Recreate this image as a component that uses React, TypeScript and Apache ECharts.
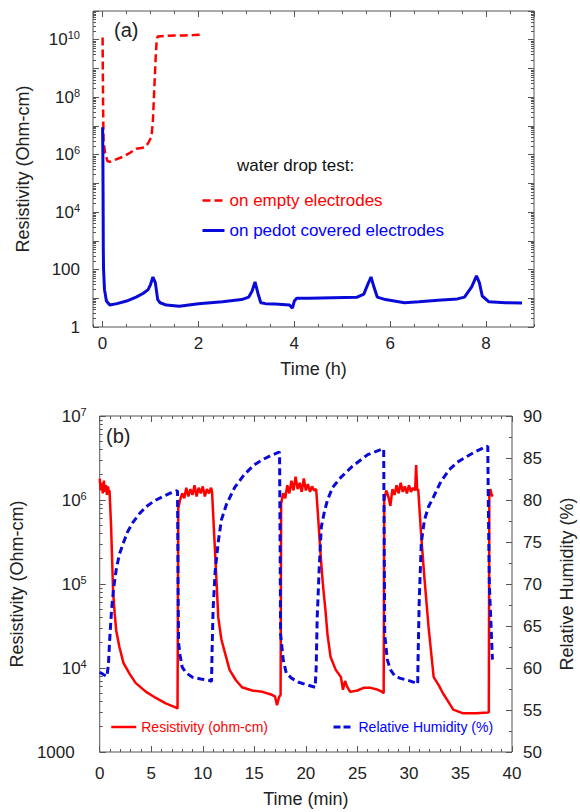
import React, { useEffect, useRef } from "react";
import * as echarts from "echarts";

// ---------- Panel (a): resistivity vs time (h) ----------
const emptyElectrodes: [number, number][] = [
  [0, 1.2e10], [0.005, 1e9], [0.01, 5e7], [0.02, 3e6], [0.05, 1.2e6], [0.1, 6e5], [0.15, 5.6e5],
  [0.25, 6.5e5], [0.42, 8.4e5], [0.55, 1.1e6], [0.7, 1.6e6], [0.8, 1.7e6], [0.88, 1.8e6],
  [0.95, 2.5e6], [1.02, 4.2e6], [1.05, 1.5e7], [1.08, 2.3e8], [1.11, 3e9], [1.13, 1e10],
  [1.15, 1.3e10], [1.3, 1.35e10], [1.5, 1.4e10], [1.7, 1.4e10], [1.9, 1.45e10], [2.06, 1.5e10],
];

const pedotElectrodes: [number, number][] = [
  [0, 9e6], [0.003, 3e6], [0.006, 1e6], [0.01, 5e4], [0.015, 500], [0.02, 100], [0.04, 20],
  [0.08, 8], [0.15, 5.8], [0.3, 6.5], [0.5, 8], [0.7, 11], [0.85, 15], [0.95, 20], [1.0, 30],
  [1.05, 55], [1.1, 35], [1.15, 9], [1.2, 7], [1.33, 5.8], [1.6, 5.3], [2.0, 6.5], [2.5, 7.5],
  [2.9, 9], [3.05, 11], [3.12, 18], [3.18, 37], [3.24, 15], [3.3, 7], [3.4, 6.5], [3.6, 6.3],
  [3.9, 5.8], [3.96, 4.5], [4.0, 8], [4.05, 10], [4.3, 10], [4.8, 10.5], [5.3, 10.8],
  [5.45, 14], [5.53, 30], [5.6, 55], [5.66, 25], [5.73, 11], [5.9, 9], [6.3, 7], [6.6, 7.5],
  [7.0, 8.5], [7.4, 9.5], [7.55, 11], [7.7, 25], [7.8, 60], [7.86, 35], [7.92, 12],
  [8.06, 7.5], [8.4, 7], [8.75, 6.9],
];

// ---------- Panel (b): resistivity & humidity vs time (min) ----------
const resistivityB: [number, number][] = [
  [0, 1.8e6], [0.1, 1.3e6], [0.2, 1.6e6], [0.3, 1.2e6], [0.4, 1.7e6], [0.5, 1.25e6], [0.6, 1.5e6],
  [0.7, 1.15e6], [0.8, 1.45e6], [0.9, 1.2e6], [0.95, 1.3e6],
  [1.1, 5e5], [1.2, 2e5], [1.3, 8e4], [1.45, 4.5e4], [1.6, 2.8e4], [1.9, 1.8e4], [2.3, 1.15e4],
  [2.9, 8.5e3], [3.5, 6.6e3], [4.5, 5.2e3], [5.45, 4.4e3], [6.4, 3.8e3], [7.35, 3.4e3], [7.55, 3.3e3],
  [7.62, 8e5], [7.8, 1.0e6], [8.0, 1.2e6], [8.2, 1.05e6], [8.4, 1.4e6], [8.6, 1.1e6], [8.8, 1.35e6],
  [9.0, 1.15e6], [9.2, 1.5e6], [9.4, 1.1e6], [9.6, 1.4e6], [9.8, 1.2e6], [10.0, 1.45e6],
  [10.2, 1.1e6], [10.4, 1.35e6], [10.6, 1.2e6], [10.8, 1.4e6], [10.9, 1.25e6],
  [11.1, 4e5], [11.3, 1.3e5], [11.5, 4e4], [11.8, 2.2e4], [12.1, 1.6e4], [12.6, 9.5e3],
  [13.2, 7.2e3], [13.8, 5.9e3], [14.8, 5.4e3], [15.8, 5.2e3], [16.7, 4.8e3], [17.0, 4.6e3],
  [17.2, 3.6e3], [17.4, 4.5e3], [17.55, 4.8e3],
  [17.6, 9e5], [17.8, 1.2e6], [18.0, 1.05e6], [18.2, 1.5e6], [18.4, 1.2e6], [18.6, 1.7e6],
  [18.8, 1.3e6], [19.0, 1.9e6], [19.2, 1.35e6], [19.4, 1.6e6], [19.6, 1.25e6], [19.8, 1.8e6],
  [20.0, 1.3e6], [20.2, 1.55e6], [20.4, 1.25e6], [20.6, 1.45e6], [20.8, 1.3e6], [21.0, 1.35e6],
  [21.2, 6e5], [21.4, 2.5e5], [21.65, 1e5], [21.9, 4.9e4], [22.1, 2.5e4], [22.4, 1.35e4],
  [22.9, 9.5e3], [23.4, 7.8e3], [23.6, 5.5e3], [23.8, 7e3], [24.0, 6e3], [24.3, 5.2e3],
  [25.0, 5.4e3], [25.6, 5.8e3], [26.3, 5.8e3], [27.0, 5.5e3], [27.4, 5.2e3], [27.55, 5e3],
  [27.6, 1.0e6], [27.8, 1.3e6], [28.0, 1.1e6], [28.2, 8.5e5], [28.4, 1.35e6], [28.6, 1.15e6],
  [28.8, 1.5e6], [29.0, 1.2e6], [29.2, 1.6e6], [29.4, 1.25e6], [29.6, 1.45e6], [29.8, 1.2e6],
  [30.0, 1.5e6], [30.2, 1.25e6], [30.4, 1.4e6], [30.6, 1.3e6], [30.7, 2.6e6], [30.8, 1.3e6],
  [30.9, 1.35e6],
  [31.2, 3.6e5], [31.5, 1.2e5], [31.9, 3.1e4], [32.4, 7.8e3], [32.9, 6.2e3], [33.3, 5e3],
  [33.8, 4e3], [34.3, 3.2e3], [35.2, 2.9e3], [36.5, 2.9e3], [37.7, 2.95e3], [37.75, 3e3],
  [37.8, 1.1e6], [37.9, 1.35e6], [38.0, 1.2e6], [38.1, 1.1e6],
];

const humidityB: [number, number][] = [
  [0, 59.5], [0.4, 59.2], [0.7, 59.0], [0.85, 60.5], [0.95, 63], [1.05, 65], [1.15, 66.9],
  [1.35, 69.5], [1.6, 71.7], [1.9, 73.5], [2.3, 74.9], [2.7, 76.2], [3.2, 77.3], [3.8, 78.3],
  [4.5, 79.2], [5.3, 79.9], [6.1, 80.4], [6.8, 80.8], [7.5, 81.1], [7.55, 81.0], [7.6, 70],
  [7.65, 63], [7.8, 61.5], [8.0, 60.1], [8.4, 59.4], [9.0, 58.9], [9.8, 58.7], [10.7, 58.5],
  [10.85, 58.4], [10.9, 62], [11.0, 67], [11.2, 71.5], [11.5, 75], [11.8, 77.6], [12.3, 79.5],
  [13.1, 81.5], [14.0, 83.0], [15.0, 84.2], [15.8, 84.8], [16.6, 85.3], [17.4, 85.7],
  [17.45, 85.6], [17.5, 75], [17.55, 64], [17.8, 61], [18.1, 59.4], [18.6, 58.8], [19.3, 58.3],
  [20.1, 58.0], [20.9, 57.7], [21.0, 60], [21.1, 66], [21.3, 72], [21.5, 76.8], [21.8, 78.6],
  [22.1, 80], [22.6, 81.5], [23.4, 82.7], [24.5, 84.0], [26.0, 85.4], [27.5, 86.1],
  [27.55, 86.0], [27.6, 75], [27.65, 64], [27.9, 61], [28.2, 59.8], [28.6, 59.1], [29.1, 58.8],
  [30.0, 58.5], [30.7, 58.2], [30.85, 58.1], [30.9, 62], [31.0, 68], [31.2, 74.9], [31.5, 77.6],
  [31.9, 79.2], [32.4, 80.4], [33.1, 82.2], [33.9, 83.6], [34.7, 84.5], [35.5, 85.1],
  [36.5, 85.8], [37.4, 86.3], [37.65, 86.4], [37.7, 80], [37.8, 70], [38.1, 61],
];

const FONT = "'Liberation Sans', Arial, Helvetica, sans-serif";
const AX = "#555";
const TXT = "#222";
const RED = "#ff0000";
const BLUE = "#0a0ad8";

const rich = {
  a: { fontSize: 17, fontFamily: FONT, color: TXT },
  b: { fontSize: 11, fontFamily: FONT, color: TXT, padding: [0, 0, 9, 0] },
  p: { fontSize: 17, fontFamily: FONT, color: TXT, padding: [0, 12, 0, 0] },
};

const topLogFmt = (v: number) => {
  const e = Math.round(Math.log10(v));
  if (e % 2 !== 0 || e > 10) return "";
  if (e === 0) return "1";
  if (e === 2) return "100";
  return `{a|10}{b|${e}}`;
};
const botLogFmt = (v: number) => {
  const e = Math.round(Math.log10(v));
  if (e === 3) return "{p|1000}";
  return `{a|10}{b|${e}}`;
};

const tickLine = { lineStyle: { color: AX, width: 1 } };
const noLine = { show: false, onZero: false };
const nameStyle = { fontSize: 18, color: TXT, fontFamily: FONT };
const labelStyle = { fontSize: 17, color: TXT, fontFamily: FONT };

export default function App() {
  const ref = useRef<HTMLDivElement>(null);
  useEffect(() => {
    const chart = echarts.init(ref.current!, null, { renderer: "svg" });
    const topX = (position: string, major: boolean, withLabel: boolean) => ({
      gridIndex: 0, type: "value", min: -0.2, max: 9, position,
      splitNumber: major ? 5 : 18,
      axisLine: noLine, splitLine: { show: false },
      axisTick: { inside: true, length: major ? 6 : 3, ...tickLine },
      axisLabel: withLabel
        ? { show: true, showMinLabel: false, showMaxLabel: false, margin: 8, ...labelStyle }
        : { show: false },
    });
    const topLogY = (position: string, withLabel: boolean) => ({
      gridIndex: 0, type: "log", logBase: 10, min: 1, max: 1e11, interval: 1, position,
      axisLine: noLine, splitLine: { show: false },
      axisTick: { inside: true, length: 6, ...tickLine },
      minorTick: { show: true, splitNumber: 9, length: 3, ...tickLine },
      axisLabel: withLabel
        ? { formatter: topLogFmt, rich, margin: 13, ...labelStyle }
        : { show: false },
    });
    const option: any = {
      animation: false,
      backgroundColor: "#fff",
      textStyle: { fontFamily: FONT },
      grid: [
        { left: 93, top: 11, right: 46, height: 316, show: true, borderColor: AX, borderWidth: 1 },
        { left: 93, top: 416, right: 68, height: 336, show: true, borderColor: AX, borderWidth: 1 },
      ],
      xAxis: [
        {
          ...topX("bottom", true, true),
          name: "Time (h)", nameLocation: "middle", nameGap: 33, nameTextStyle: nameStyle,
        },
        topX("bottom", false, false),
        topX("top", true, false),
        topX("top", false, false),
        {
          gridIndex: 1, type: "value", min: 0, max: 40, interval: 5, position: "bottom",
          axisLine: noLine, splitLine: { show: false },
          axisTick: { inside: true, length: 6, ...tickLine },
          minorTick: { show: true, splitNumber: 5, length: 3, ...tickLine },
          axisLabel: { margin: 13, ...labelStyle },
          name: "Time (min)", nameLocation: "middle", nameGap: 38, nameTextStyle: nameStyle,
        },
        {
          gridIndex: 1, type: "value", min: 0, max: 40, interval: 5, position: "top",
          axisLine: noLine, splitLine: { show: false }, axisLabel: { show: false },
          axisTick: { inside: true, length: 6, ...tickLine },
          minorTick: { show: true, splitNumber: 5, length: 3, ...tickLine },
        },
      ],
      yAxis: [
        {
          ...topLogY("left", true),
          name: "Resistivity (Ohm-cm)", nameLocation: "middle", nameGap: 61, nameRotate: 90,
          nameTextStyle: nameStyle,
        },
        topLogY("right", false),
        {
          gridIndex: 1, type: "log", logBase: 10, min: 1000, max: 1e7, splitNumber: 4, position: "left",
          axisLine: noLine, splitLine: { show: false },
          axisTick: { inside: true, length: 6, ...tickLine },
          minorTick: { show: true, splitNumber: 9, length: 3, ...tickLine },
          axisLabel: { formatter: botLogFmt, rich, margin: 13, ...labelStyle },
          name: "Resistivity (Ohm-cm)", nameLocation: "middle", nameGap: 61, nameRotate: 90,
          nameTextStyle: nameStyle,
        },
        {
          gridIndex: 1, type: "value", min: 50, max: 90, interval: 5, position: "right",
          axisLine: noLine, splitLine: { show: false },
          axisTick: { inside: true, length: 6, ...tickLine },
          minorTick: { show: true, splitNumber: 2, length: 3, ...tickLine },
          axisLabel: { margin: 11, ...labelStyle },
        },
      ],
      legend: [
        {
          orient: "vertical", left: 201, top: 192, itemGap: 13, itemWidth: 22, itemHeight: 14,
          padding: 0, selectedMode: false, itemStyle: { opacity: 0 },
          textStyle: { fontSize: 17, fontFamily: FONT },
          data: [
            {
              name: "on empty electrodes", textStyle: { color: "#ff0000" },
              lineStyle: { color: RED, width: 2.5, type: [8, 4] },
            },
            {
              name: "on pedot covered electrodes", textStyle: { color: "#0000ff" },
              lineStyle: { color: BLUE, width: 3, type: "solid" },
            },
          ],
        },
        {
          left: 110, top: 720, itemWidth: 25, itemHeight: 14, padding: 0, selectedMode: false,
          itemStyle: { opacity: 0 },
          textStyle: { fontSize: 14, fontFamily: FONT },
          data: [{
            name: "Resistivity (ohm-cm)", textStyle: { color: "#ff0000" },
            lineStyle: { color: RED, width: 2.5, type: "solid" },
          }],
        },
        {
          left: 332, top: 720, itemWidth: 20, itemHeight: 14, padding: 0, selectedMode: false,
          itemStyle: { opacity: 0 },
          textStyle: { fontSize: 14, fontFamily: FONT },
          data: [{
            name: "Relative Humidity (%)", textStyle: { color: "#0000ff" },
            lineStyle: { color: BLUE, width: 3, type: [7, 3] },
          }],
        },
      ],
      graphic: [
        { type: "text", left: 114, top: 20, style: { text: "(a)", fontSize: 20, fill: TXT, fontFamily: FONT } },
        { type: "text", left: 106, top: 426, style: { text: "(b)", fontSize: 20, fill: TXT, fontFamily: FONT } },
        { type: "text", left: 237, top: 157, style: { text: "water drop test:", fontSize: 17, fill: "#111", fontFamily: FONT } },
        {
          type: "text", x: 567, y: 584, rotation: Math.PI / 2,
          style: {
            text: "Relative Humidity (%)", fontSize: 18, fill: TXT, fontFamily: FONT,
            align: "center", verticalAlign: "middle",
          },
        },
      ],
      series: [
        {
          type: "line", name: "on empty electrodes", xAxisIndex: 0, yAxisIndex: 0, data: emptyElectrodes,
          symbol: "none", color: RED, lineStyle: { color: RED, width: 2.5, type: [8, 4] }, z: 2,
        },
        {
          type: "line", name: "on pedot covered electrodes", xAxisIndex: 0, yAxisIndex: 0, data: pedotElectrodes,
          symbol: "none", color: BLUE, lineStyle: { color: BLUE, width: 3 }, z: 3,
        },
        {
          type: "line", name: "Resistivity (ohm-cm)", xAxisIndex: 4, yAxisIndex: 2, data: resistivityB,
          symbol: "none", color: RED, lineStyle: { color: RED, width: 2.5 }, z: 2,
        },
        {
          type: "line", name: "Relative Humidity (%)", xAxisIndex: 4, yAxisIndex: 3, data: humidityB,
          symbol: "none", color: BLUE, lineStyle: { color: BLUE, width: 3, type: [7, 4] }, z: 3,
        },
      ],
    };
    chart.setOption(option);
    return () => chart.dispose();
  }, []);
  return (
    <div
      ref={ref}
      style={{ position: "fixed", left: 0, top: 0, width: 580, height: 812, background: "#fff" }}
    />
  );
}
